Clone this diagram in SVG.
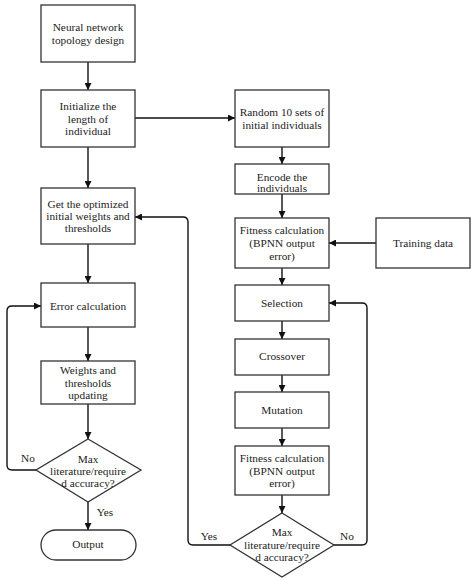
<svg xmlns="http://www.w3.org/2000/svg" width="474" height="580" viewBox="0 0 474 580">
<defs>
<marker id="ah" viewBox="0 0 10 10" refX="10" refY="5" markerWidth="7" markerHeight="7" markerUnits="userSpaceOnUse" orient="auto">
<path d="M0,0 L10,5 L0,10 z" fill="#111"/>
</marker>
<style>
.box{fill:#fff;stroke:#333;stroke-width:1.3}
.t{font-family:"Liberation Serif","DejaVu Serif",serif;font-size:11.3px;fill:#222;text-anchor:middle}
.c{fill:none;stroke:#111;stroke-width:1.4;marker-end:url(#ah)}
</style>
</defs>
<rect width="474" height="580" fill="#fff"/>
<g id="connectors">
<path class="c" d="M88,62 V90"/>
<path class="c" d="M88,147 V188"/>
<path class="c" d="M135,118 H235"/>
<path class="c" d="M88,244 V283"/>
<path class="c" d="M88,327 V361"/>
<path class="c" d="M88,404 V439"/>
<path class="c" d="M88,502 V530"/>
<path class="c" d="M36,470 H12 Q7,470 7,465 V311 Q7,306 12,306 H41"/>
<path class="c" d="M282,147 V164"/>
<path class="c" d="M282,194 V218"/>
<path class="c" d="M376,243 H329"/>
<path class="c" d="M282,268 V285"/>
<path class="c" d="M282,321 V339"/>
<path class="c" d="M282,375 V392"/>
<path class="c" d="M282,428 V446"/>
<path class="c" d="M282,495 V513"/>
<path class="c" d="M230,545 H193 Q188,545 188,540 V222 Q188,217 183,217 H135"/>
<path class="c" d="M334,545 H362 Q367,545 367,540 V308 Q367,303 362,303 H329"/>
</g>
<g id="n1"><rect class="box" x="41" y="5" width="94" height="57"/><text class="t" x="88" y="31">Neural network</text><text class="t" x="88" y="44">topology design</text></g>
<g id="n2"><rect class="box" x="41" y="90" width="94" height="57"/><text class="t" x="88" y="110">Initialize the</text><text class="t" x="88" y="122.5">length of</text><text class="t" x="88" y="135">individual</text></g>
<g id="n3"><rect class="box" x="41" y="188" width="94" height="56"/><text class="t" x="88" y="208">Get the optimized</text><text class="t" x="88" y="220">initial weights and</text><text class="t" x="88" y="232">thresholds</text></g>
<g id="n4"><rect class="box" x="41" y="283" width="94" height="44"/><text class="t" x="88" y="310">Error calculation</text></g>
<g id="n5"><rect class="box" x="41" y="361" width="94" height="43"/><text class="t" x="88" y="374">Weights and</text><text class="t" x="88" y="387">thresholds</text><text class="t" x="88" y="399">updating</text></g>
<g id="d1"><polygon class="box" points="88,439 141,470 88,502 36,470"/><text class="t" x="88" y="463">Max</text><text class="t" x="88" y="475">literature/require</text><text class="t" x="88" y="486.5">d accuracy?</text></g>
<g id="out"><rect class="box" x="41" y="530" width="95" height="30" rx="15" ry="15"/><text class="t" x="88" y="548">Output</text></g>
<g id="n6"><rect class="box" x="235" y="90" width="94" height="57"/><text class="t" x="282" y="116">Random 10 sets of</text><text class="t" x="282" y="129">initial individuals</text></g>
<g id="n7"><rect class="box" x="235" y="164" width="94" height="30"/><text class="t" x="282" y="180.5">Encode the</text><text class="t" x="282" y="192">individuals</text></g>
<g id="n8"><rect class="box" x="235" y="218" width="94" height="50"/><text class="t" x="282" y="234">Fitness calculation</text><text class="t" x="282" y="247">(BPNN output</text><text class="t" x="282" y="260">error)</text></g>
<g id="n9"><rect class="box" x="376" y="218" width="94" height="50"/><text class="t" x="423" y="247">Training data</text></g>
<g id="n10"><rect class="box" x="235" y="285" width="94" height="36"/><text class="t" x="282" y="307">Selection</text></g>
<g id="n11"><rect class="box" x="235" y="339" width="94" height="36"/><text class="t" x="282" y="360">Crossover</text></g>
<g id="n12"><rect class="box" x="235" y="392" width="94" height="36"/><text class="t" x="282" y="414">Mutation</text></g>
<g id="n13"><rect class="box" x="235" y="446" width="94" height="49"/><text class="t" x="282" y="462">Fitness calculation</text><text class="t" x="282" y="475">(BPNN output</text><text class="t" x="282" y="487">error)</text></g>
<g id="d2"><polygon class="box" points="282,513 334,545 282,577 230,545"/><text class="t" x="282" y="536">Max</text><text class="t" x="282" y="549">literature/require</text><text class="t" x="282" y="561">d accuracy?</text></g>
<g id="labels">
<text class="t" x="28" y="462">No</text>
<text class="t" x="105" y="516">Yes</text>
<text class="t" x="209" y="540">Yes</text>
<text class="t" x="347" y="540">No</text>
</g>
</svg>
